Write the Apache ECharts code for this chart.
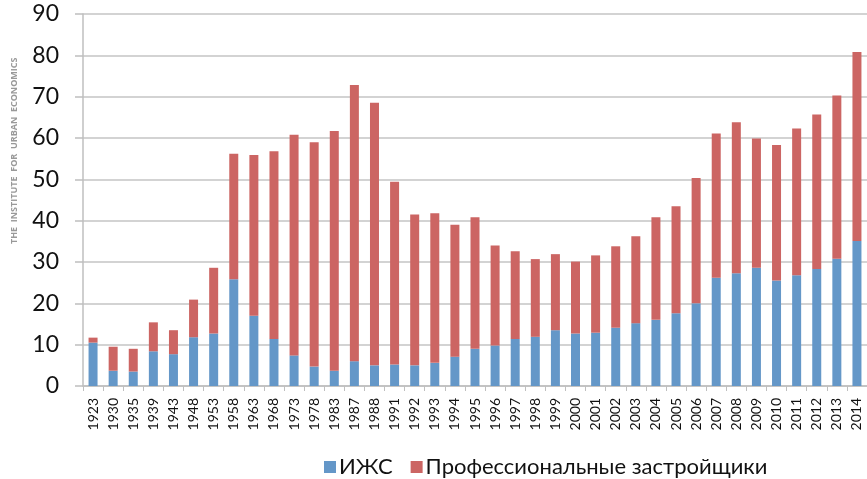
<!DOCTYPE html>
<html>
<head>
<meta charset="utf-8">
<script src="https://cdn.jsdelivr.net/npm/echarts@6/dist/echarts.min.js"></script>
<style>
html,body{margin:0;padding:0;background:#fff;}
#chart{width:867px;height:479px;}
</style>
</head>
<body>
<div id="chart"></div>
<script>
var categories = ['1923','1930','1935','1939','1943','1948','1953','1958','1963','1968','1973','1978','1983','1987','1988','1991','1992','1993','1994','1995','1996','1997','1998','1999','2000','2001','2002','2003','2004','2005','2006','2007','2008','2009','2010','2011','2012','2013','2014'];
var izhs = [10.5,3.7,3.5,8.4,7.7,11.8,12.7,25.8,17.0,11.4,7.4,4.7,3.7,6.0,5.0,5.2,5.0,5.6,7.1,9.0,9.8,11.4,11.9,13.5,12.7,12.9,14.1,15.2,16.0,17.6,20.0,26.2,27.3,28.6,25.5,26.8,28.3,30.8,35.1];
var totals = [11.7,9.5,9.0,15.4,13.5,20.9,28.6,56.2,55.9,56.8,60.8,59.0,61.7,72.8,68.5,49.4,41.5,41.8,39.0,40.8,34.0,32.6,30.7,31.9,30.1,31.6,33.8,36.2,40.8,43.5,50.3,61.1,63.8,59.9,58.3,62.3,65.7,70.3,80.8];
var professional = totals.map(function(t,i){return Math.round((t - izhs[i])*10)/10;});
var seriesNames = ['ИЖС','Профессиональные застройщики'];
var yTicks = {min:0, max:90, interval:10};

var chart = echarts.init(document.getElementById('chart'), null, {renderer:'canvas'});
chart.setOption({
  animation:false,
  backgroundColor:'#ffffff',
  textStyle:{fontFamily:'Lato, "Open Sans", sans-serif'},
  grid:{left:83, top:14, width:790, height:372, containLabel:false},
  legend:{
    data:seriesNames,
    left:319, top:451,
    itemWidth:12, itemHeight:12, itemGap:18,
    icon:'rect',
    textStyle:{fontSize:22, color:'#111', fontFamily:'Lato, "Open Sans", sans-serif', padding:[0,0,0,-2]}
  },
  graphic:[{
    type:'text',
    x:10, y:244,
    rotation:Math.PI/2,
    style:{text:'THE  INSTITUTE  FOR  URBAN  ECONOMICS', fill:'#999999', font:'bold 9px "Open Sans", sans-serif', textVerticalAlign:'top'}
  }],
  xAxis:{
    type:'category',
    data:categories,
    axisLine:{lineStyle:{color:'#bfbfbf', width:1.5}},
    axisTick:{show:true, length:5, lineStyle:{color:'#bfbfbf'}},
    axisLabel:{rotate:90, interval:0, fontSize:14, color:'#111', margin:12, fontFamily:'Lato, sans-serif'}
  },
  yAxis:{
    type:'value',
    min:yTicks.min, max:yTicks.max, interval:yTicks.interval,
    axisLine:{show:true, lineStyle:{color:'#bfbfbf', width:1.5}},
    axisTick:{show:true, length:8, lineStyle:{color:'#bfbfbf', width:1.5}},
    splitLine:{lineStyle:{color:'#c4c4c4', width:1.5}},
    axisLabel:{fontSize:23, color:'#111', margin:24, fontFamily:'Lato, sans-serif'}
  },
  series:[
    {name:seriesNames[0], type:'bar', stack:'total', data:izhs, barWidth:9, itemStyle:{color:'#6497c8'}},
    {name:seriesNames[1], type:'bar', stack:'total', data:professional, barWidth:9, itemStyle:{color:'#cc6563'}}
  ]
});
</script>
</body>
</html>
